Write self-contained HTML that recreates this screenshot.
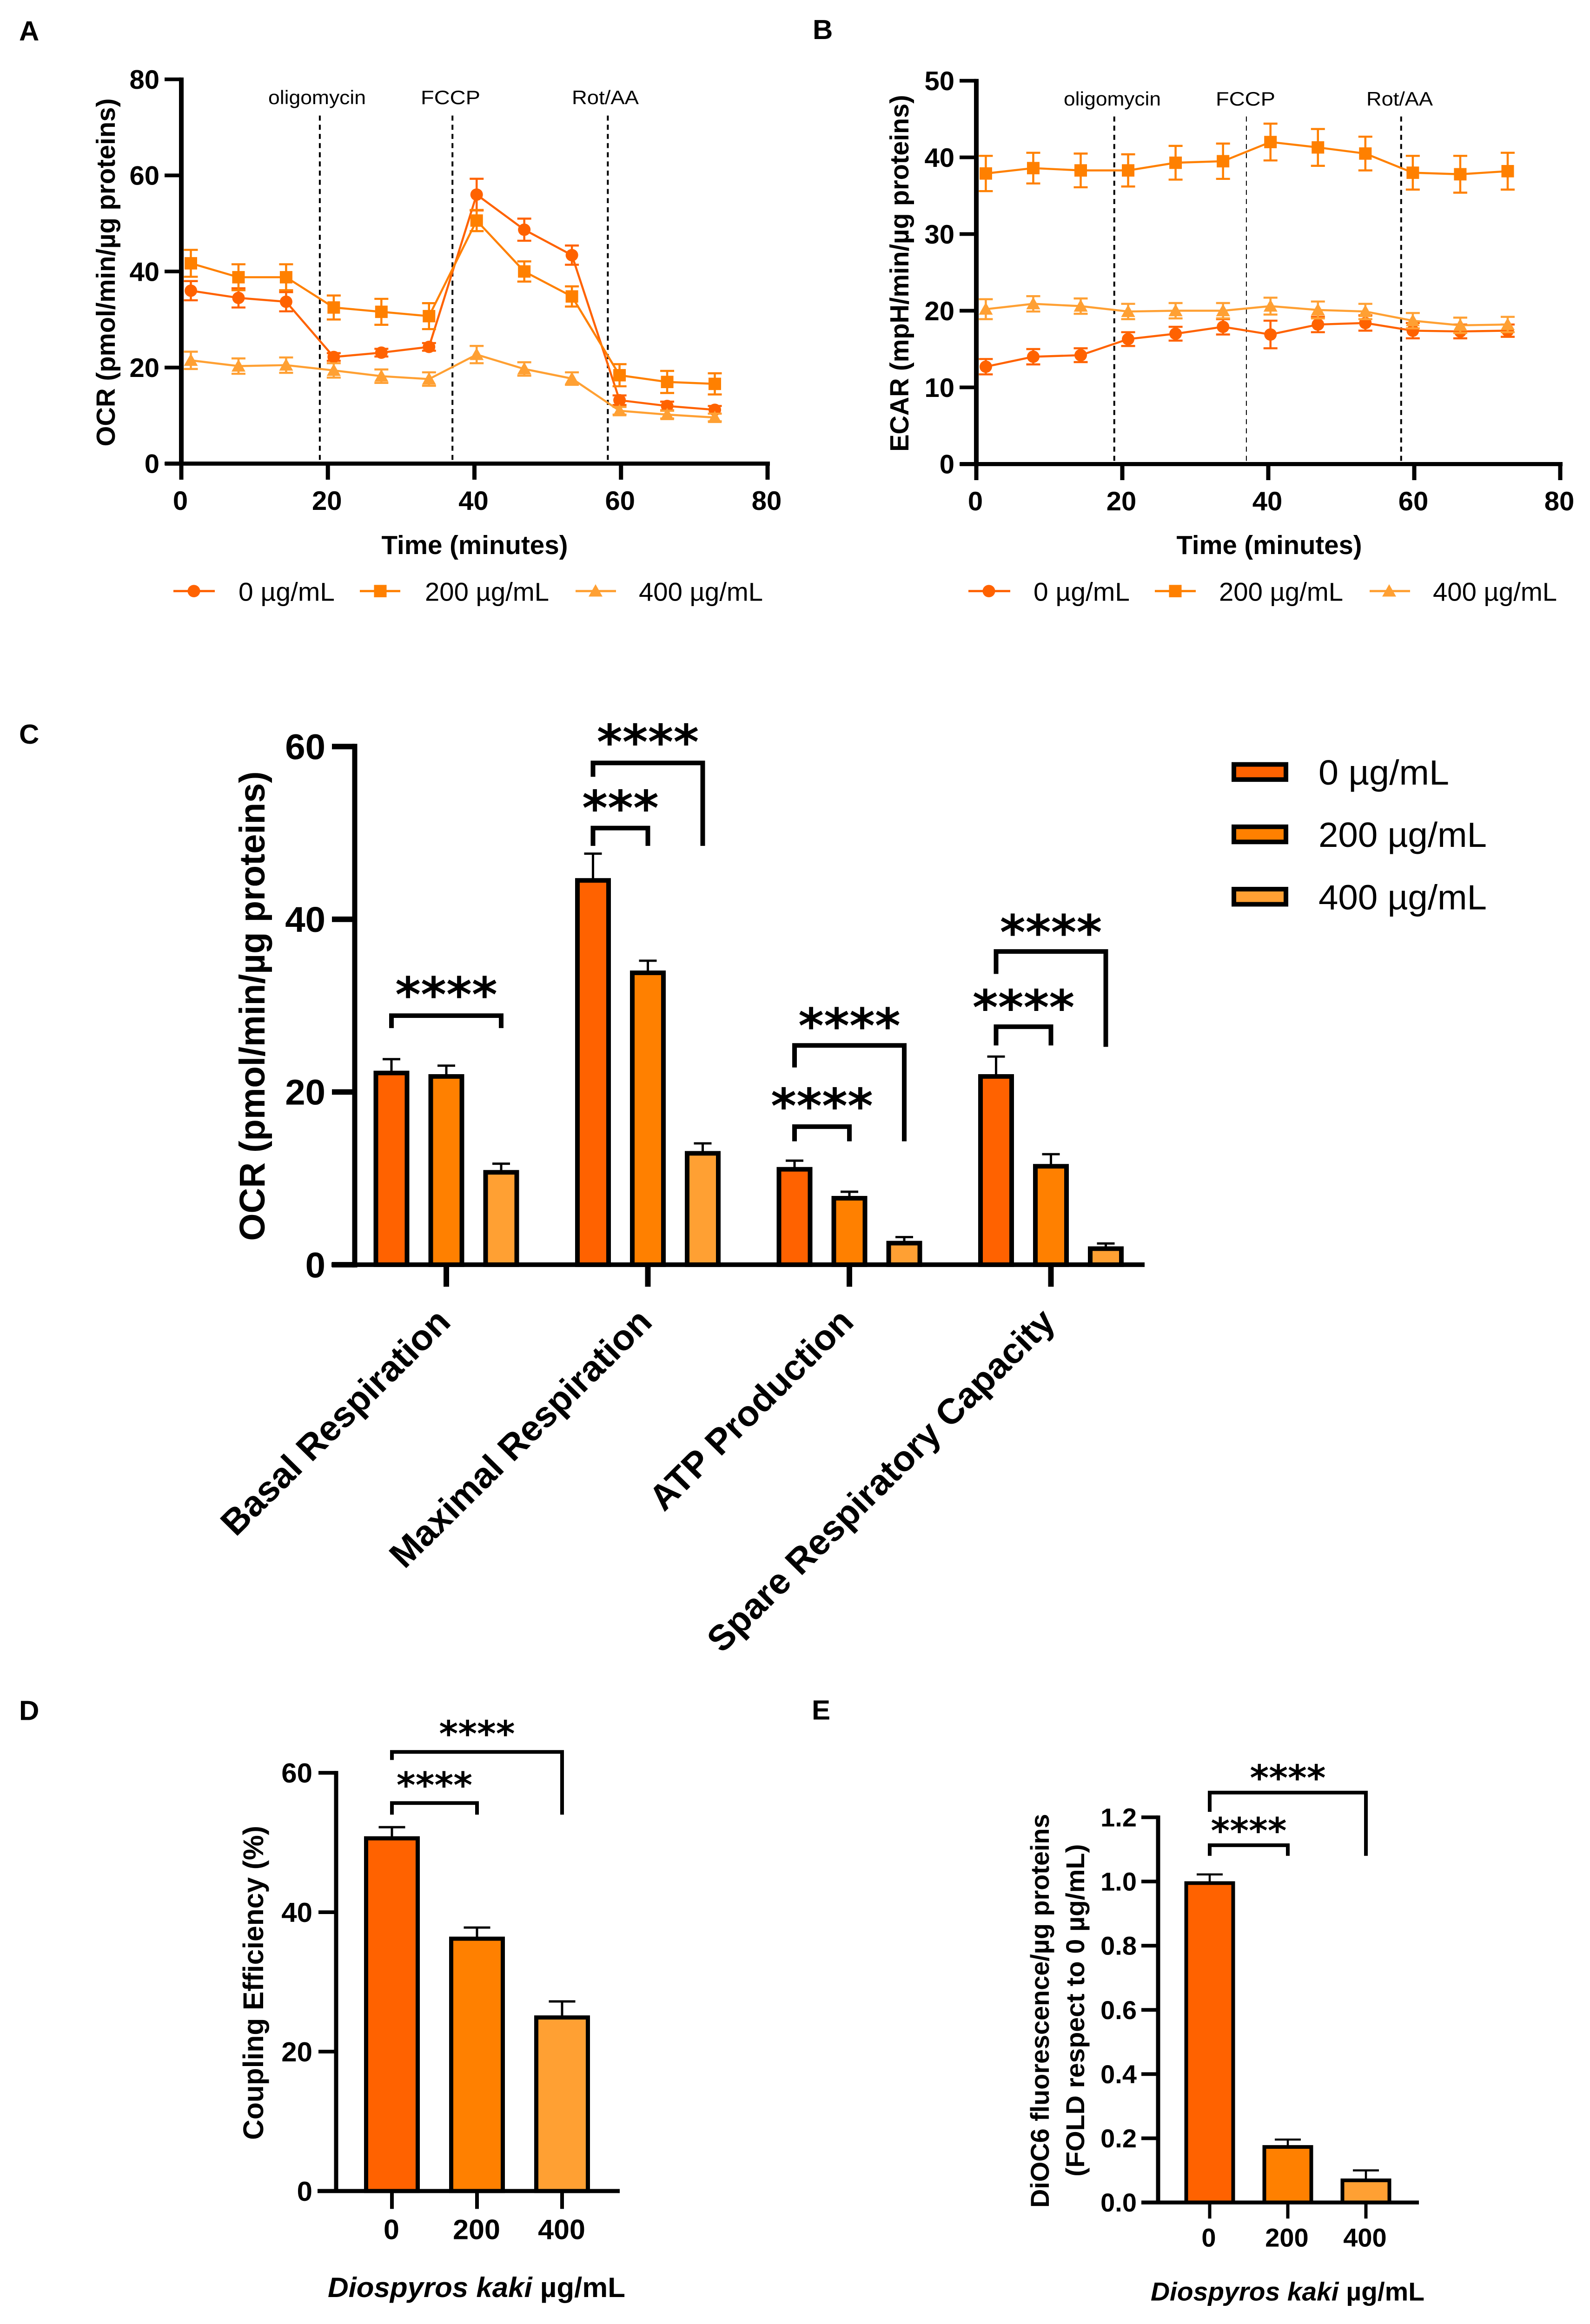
<!DOCTYPE html>
<html lang="en">
<head>
<meta charset="utf-8">
<title>Diospyros kaki mitochondrial respiration figure</title>
<style>
html,body{margin:0;padding:0;background:#fff;width:100%;height:100%;overflow:hidden}
svg#figure{display:block;position:absolute;left:0;top:0;width:100vw;height:100vh}
text{font-family:"Liberation Sans",Arial,sans-serif;fill:#000}
.b{font-weight:700}
</style>
</head>
<body>
<svg id="figure" xmlns="http://www.w3.org/2000/svg" viewBox="0 0 3420 5068" preserveAspectRatio="none">
<rect width="3420" height="5068" fill="#fff"/>

<g id="panel-a">
  <text class="b" x="41" y="88" font-size="60">A</text>
  <text class="b" font-size="57" text-anchor="middle" textLength="759" lengthAdjust="spacingAndGlyphs" transform="translate(247,594) rotate(-90)">OCR (pmol/min/µg proteins)</text>
  <text class="b" font-size="57" text-anchor="middle" x="1021" y="1208" textLength="401" lengthAdjust="spacingAndGlyphs">Time (minutes)</text>
  <text font-size="42" x="577" y="227" textLength="210" lengthAdjust="spacingAndGlyphs">oligomycin</text>
  <text font-size="42" x="905" y="227" textLength="128" lengthAdjust="spacingAndGlyphs">FCCP</text>
  <text font-size="42" x="1230" y="227" textLength="144" lengthAdjust="spacingAndGlyphs">Rot/AA</text>
  <text font-size="56" x="513" y="1310" textLength="207" lengthAdjust="spacingAndGlyphs">0 µg/mL</text>
  <text font-size="56" x="914" y="1310" textLength="267" lengthAdjust="spacingAndGlyphs">200 µg/mL</text>
  <text font-size="56" x="1374" y="1310" textLength="267" lengthAdjust="spacingAndGlyphs">400 µg/mL</text>
</g>

<g id="panel-b">
  <text class="b" x="1748" y="85" font-size="60">B</text>
  <text class="b" font-size="57" text-anchor="middle" textLength="778" lengthAdjust="spacingAndGlyphs" transform="translate(1954,596) rotate(-90)">ECAR (mpH/min/µg proteins)</text>
  <text class="b" font-size="57" text-anchor="middle" x="2730" y="1208" textLength="399" lengthAdjust="spacingAndGlyphs">Time (minutes)</text>
  <text font-size="42" x="2288" y="230" textLength="209" lengthAdjust="spacingAndGlyphs">oligomycin</text>
  <text font-size="42" x="2615" y="230" textLength="128" lengthAdjust="spacingAndGlyphs">FCCP</text>
  <text font-size="42" x="2939" y="230" textLength="143" lengthAdjust="spacingAndGlyphs">Rot/AA</text>
  <text font-size="56" x="2223" y="1310" textLength="207" lengthAdjust="spacingAndGlyphs">0 µg/mL</text>
  <text font-size="56" x="2622" y="1310" textLength="267" lengthAdjust="spacingAndGlyphs">200 µg/mL</text>
  <text font-size="56" x="3082" y="1310" textLength="267" lengthAdjust="spacingAndGlyphs">400 µg/mL</text>
</g>

<g id="panel-c">
  <text class="b" x="41" y="1622" font-size="60">C</text>
  <text class="b" font-size="77" text-anchor="middle" textLength="1024" lengthAdjust="spacingAndGlyphs" transform="translate(569,2194) rotate(-90)">OCR (pmol/min/µg proteins)</text>
  <rect x="2654" y="1667" width="112" height="33" fill="#FF6200" stroke="#000" stroke-width="10"/>
  <rect x="2654" y="1803" width="112" height="33" fill="#FF8000" stroke="#000" stroke-width="10"/>
  <rect x="2654" y="1939" width="112" height="33" fill="#FFA033" stroke="#000" stroke-width="10"/>
  <text font-size="76" x="2836" y="1711" textLength="281" lengthAdjust="spacingAndGlyphs">0 µg/mL</text>
  <text font-size="76" x="2836" y="1847" textLength="362" lengthAdjust="spacingAndGlyphs">200 µg/mL</text>
  <text font-size="76" x="2836" y="1983" textLength="362" lengthAdjust="spacingAndGlyphs">400 µg/mL</text>
</g>

<g id="panel-d">
  <text class="b" x="41" y="3751" font-size="60">D</text>
  <text class="b" font-size="61" text-anchor="middle" textLength="685" lengthAdjust="spacingAndGlyphs" transform="translate(566,4324) rotate(-90)">Coupling Efficiency (%)</text>
  <text class="b" font-size="61" x="705" y="5009" textLength="640" lengthAdjust="spacingAndGlyphs"><tspan font-style="italic">Diospyros kaki</tspan> µg/mL</text>
</g>

<g id="panel-e">
  <text class="b" x="1746" y="3750" font-size="60">E</text>
  <text class="b" font-size="56" text-anchor="middle" textLength="859" lengthAdjust="spacingAndGlyphs" transform="translate(2256,4385) rotate(-90)">DiOC6 fluorescence/µg proteins</text>
  <text class="b" font-size="56" text-anchor="middle" textLength="725" lengthAdjust="spacingAndGlyphs" transform="translate(2332,4384) rotate(-90)">(FOLD respect to 0 µg/mL)</text>
  <text class="b" font-size="56" x="2475" y="5017" textLength="589" lengthAdjust="spacingAndGlyphs"><tspan font-style="italic">Diospyros kaki</tspan> µg/mL</text>
</g>
</svg>

<script>
// ---------- Panel A data (OCR time course) ----------
const timeMinutes = [1.3, 7.8, 14.3, 20.8, 27.3, 33.8, 40.3, 46.8, 53.3, 59.8, 66.3, 72.8];
const ocr0 = [36, 34.5, 33.7, 22.2, 23.1, 24.3, 56, 48.7, 43.4, 13.2, 12, 11.2];
const ocr0Err = [2, 2, 2, 0.8, 0.8, 0.8, 3.3, 2.3, 2, 1, 0.9, 0.8];
const ocr200 = [41.7, 38.8, 38.8, 32.5, 31.6, 30.7, 50.6, 40, 34.8, 18.4, 17, 16.6];
const ocr200Err = [2.8, 2.7, 2.7, 2.5, 2.7, 2.7, 2.2, 2.1, 2.1, 2.3, 2.3, 2.2];
const ocr400 = [21.5, 20.3, 20.5, 19.4, 18.2, 17.6, 22.7, 19.7, 17.7, 11, 10.2, 9.6];
const ocr400Err = [1.8, 1.6, 1.6, 1.5, 1.4, 1.4, 1.8, 1.4, 1.3, 0.8, 0.8, 0.8];
const timeTicks = [0, 20, 40, 60, 80];
const ocrTicks = [0, 20, 40, 60, 80];
const injectionTimes = [18.9, 37, 58.2];

// ---------- Panel B data (ECAR time course) ----------
const ecar0 = [12.7, 14, 14.2, 16.3, 17, 17.9, 16.9, 18.2, 18.4, 17.4, 17.3, 17.4];
const ecar0Err = [1, 1, 0.9, 0.9, 0.9, 1, 1.8, 1, 1, 1, 0.9, 0.8];
const ecar200 = [37.9, 38.6, 38.3, 38.3, 39.3, 39.5, 42, 41.3, 40.5, 38, 37.8, 38.2];
const ecar200Err = [2.3, 2, 2.2, 2.1, 2.2, 2.3, 2.4, 2.4, 2.2, 2.2, 2.4, 2.4];
const ecar400 = [20.2, 20.9, 20.6, 19.9, 20, 20, 20.6, 20.1, 19.9, 18.7, 18.1, 18.2];
const ecar400Err = [1.3, 1, 1, 1, 1, 1, 1.1, 1.1, 1, 1, 1, 1];
const ecarTicks = [0, 10, 20, 30, 40, 50];

// ---------- Panel C data (respiration parameters) ----------
const respCategories = ["Basal Respiration", "Maximal Respiration", "ATP Production", "Spare Respiratory Capacity"];
const respDoses = ["0", "200", "400"];
const resp0 = [22.2, 44.5, 11.05, 21.8];
const resp0Err = [1.6, 3.1, 1, 2.3];
const resp200 = [21.8, 33.8, 7.7, 11.4];
const resp200Err = [1.25, 1.4, 0.75, 1.4];
const resp400 = [10.7, 12.9, 2.5, 1.86];
const resp400Err = [1, 1.15, 0.7, 0.6];
const respTicks = [0, 20, 40, 60];
// significance annotations: group, first bar, last bar, levels in axis units, stars
const respSignif = [
  [0, 0, 2, 28.84, 27.4, 27.4, 32.18, "****"],
  [1, 0, 2, 58.1, 56.5, 48.5, 61.44, "****"],
  [1, 0, 1, 50.56, 48.5, 48.5, 53.8, "***"],
  [2, 0, 2, 25.39, 22.84, 14.29, 28.57, "****"],
  [2, 0, 1, 15.99, 14.29, 14.29, 19.28, "****"],
  [3, 0, 2, 36.27, 33.67, 25.23, 39.4, "****"],
  [3, 0, 1, 27.56, 25.39, 25.39, 30.7, "****"]
];

// ---------- Panel D data (coupling efficiency) ----------
const doseLabels = ["0", "200", "400"];
const coupling = [50.6, 36.2, 24.9];
const couplingErr = [1.6, 1.6, 2.3];
const couplingTicks = [0, 20, 40, 60];
const couplingSignif = [
  [0, 2, 63, 61.84, 54, 66.45, "****"],
  [0, 1, 55.66, 54, 54, 59.1, "****"]
];

// ---------- Panel E data (DiOC6) ----------
const dioc = [0.995, 0.173, 0.069];
const diocErr = [0.027, 0.023, 0.031];
const diocTicks = [0, 0.2, 0.4, 0.6, 0.8, 1.0, 1.2];
const diocSignif = [
  [0, 2, 1.277, 1.217, 1.08, 1.341, "****"],
  [0, 1, 1.113, 1.08, 1.08, 1.177, "****"]
];

const COLORS = ["#FF6200", "#FF8000", "#FFA033"];
const SVGNS = "http://www.w3.org/2000/svg";

function el(parent, tag, attrs, text) {
  const n = document.createElementNS(SVGNS, tag);
  for (const k in attrs) n.setAttribute(k, attrs[k]);
  if (text !== undefined) n.textContent = text;
  parent.appendChild(n);
  return n;
}
function linear(d0, d1, r0, r1) {
  return function (v) { return r0 + (v - d0) * (r1 - r0) / (d1 - d0); };
}

function drawYAxis(g, x, y, ticks, fmt, o) {
  const line = el(g, "line", { x1: x, x2: x, y1: y(ticks[ticks.length - 1]) - o.tw / 2, y2: y(ticks[0]) + o.tw / 2, stroke: "#000", "stroke-width": o.lw });
  
  
  ticks.forEach(function (t) {
    const tk = el(g, "line", { x1: x - o.tl, x2: x, y1: y(t), y2: y(t), stroke: "#000", "stroke-width": o.tw });
    
    
    const lb = el(g, "text", { x: o.labelRight, y: y(t) + o.fs * 0.355, "font-size": o.fs, "font-weight": 700, "text-anchor": "end" }, fmt(t));
    
    
  });
}

function drawLinePanel(g, x, y, injections, dashTop, dashWidths, seriesValues, seriesErrors, xTicks, yTicks, o) {
  injections.forEach(function (t, i) {
    const d = el(g, "line", { x1: x(t), x2: x(t), y1: dashTop, y2: y(0) - 6, stroke: "#000", "stroke-width": dashWidths[i], "stroke-dasharray": "11 9" });
    
    
  });
  seriesValues.forEach(function (vals, s) {
    const color = COLORS[s];
    const sg = el(g, "g", {});
    
    
    vals.forEach(function (v, i) {
      const e = seriesErrors[s][i], px = x(timeMinutes[i]);
      const path = "M" + px + " " + y(v + e) + "V" + y(v - e) + "M" + (px - 15) + " " + y(v + e) + "H" + (px + 15) + "M" + (px - 15) + " " + y(v - e) + "H" + (px + 15);
      const eb = el(sg, "path", { d: path, stroke: color, "stroke-width": 4.5, fill: "none" });
      
      
    });
    const pts = vals.map(function (v, i) { return x(timeMinutes[i]) + "," + y(v); }).join(" ");
    const pl = el(sg, "polyline", { points: pts, fill: "none", stroke: color, "stroke-width": 4.5 });
    
    
    vals.forEach(function (v, i) {
      const m = drawMarker(sg, s, x(timeMinutes[i]), y(v), color);
      
      
    });
  });
  // axes
  const xa = el(g, "line", { x1: o.xStart, x2: x(xTicks[xTicks.length - 1]) + 5, y1: y(0), y2: y(0), stroke: "#000", "stroke-width": 9 });
  
  
  xTicks.forEach(function (t) {
    const tk = el(g, "line", { x1: x(t), x2: x(t), y1: y(0), y2: y(0) + 35, stroke: "#000", "stroke-width": 9 });
    
    
    const lb = el(g, "text", { x: x(t) - 2, y: y(0) + 101, "font-size": 58, "font-weight": 700, "text-anchor": "middle" }, String(t));
    
    
  });
  drawYAxis(g, x(0), y, yTicks, String, { lw: 10, tw: 8, tl: 36, fs: 58, labelRight: o.labelRight });
}

function drawMarker(parent, kind, cx, cy, color) {
  if (kind === 0) return el(parent, "circle", { cx: cx, cy: cy, r: 13.5, fill: color });
  if (kind === 1) return el(parent, "rect", { x: cx - 13.5, y: cy - 13.5, width: 27, height: 27, fill: color });
  return el(parent, "path", { d: "M" + cx + " " + (cy - 15) + "L" + (cx + 15) + " " + (cy + 12) + "L" + (cx - 15) + " " + (cy + 12) + "Z", fill: color });
}

function drawLineLegend(g, items) {
  items.forEach(function (it, s) {
    const l = el(g, "line", { x1: it.a, x2: it.b, y1: 1289, y2: 1289, stroke: COLORS[s], "stroke-width": 5 });
    
    
    const m = drawMarker(g, s, it.m, 1289, COLORS[s]);
    
    
  });
}

function drawBar(g, cx, value, err, y, color, o) {
  const e = el(g, "path", { d: "M" + cx + " " + y(value) + "V" + y(value + err) + "M" + (cx - o.cap / 2) + " " + y(value + err) + "H" + (cx + o.cap / 2), stroke: "#000", "stroke-width": o.ew, fill: "none" });
  
  
  const r = el(g, "rect", { x: cx - o.w / 2, y: y(value), width: o.w, height: y(0) - y(value), fill: color, stroke: "#000", "stroke-width": o.sw });
  
  
}

function drawBracket(g, x1, x2, top, leftEnd, rightEnd, starY, stars, o) {
  const p = el(g, "path", { d: "M" + x1 + " " + leftEnd + "V" + top + "H" + x2 + "V" + rightEnd, fill: "none", stroke: "#000", "stroke-width": o.sw });
  
  
  const t = el(g, "text", { x: (x1 + x2) / 2, y: starY + o.fs * 0.516, "font-size": o.fs, "font-weight": 700, "text-anchor": "middle", style: 'font-family:"DejaVu Sans",sans-serif' }, stars);
  
  
}

// ---------- Panel A ----------
const gA = document.getElementById("panel-a");
const xA = linear(0, 80, 390, 1651);
const yA = linear(0, 80, 1011, 173);
drawLinePanel(gA, xA, yA, injectionTimes, 252, [4, 4, 4], [ocr0, ocr200, ocr400], [ocr0Err, ocr200Err, ocr400Err], timeTicks, ocrTicks, { xStart: 355, labelRight: 343 });
drawLineLegend(gA, [{ a: 373, b: 462, m: 417 }, { a: 774, b: 861, m: 818 }, { a: 1238, b: 1325, m: 1281 }]);

// ---------- Panel B ----------
const gB = document.getElementById("panel-b");
const xB = linear(0, 80, 2100, 3356);
const yB = linear(0, 50, 1012, 176);
drawLinePanel(gB, xB, yB, injectionTimes, 254, [4, 2, 4], [ecar0, ecar200, ecar400], [ecar0Err, ecar200Err, ecar400Err], timeTicks, ecarTicks, { xStart: 2065, labelRight: 2053 });
drawLineLegend(gB, [{ a: 2083, b: 2173, m: 2127 }, { a: 2484, b: 2572, m: 2528 }, { a: 2946, b: 3033, m: 2988 }]);

// ---------- Panel C ----------
const gC = document.getElementById("panel-c");
const yC = linear(0, 60, 2758, 1628);
function bandC(group, bar) { return 842 + 433.5 * group + 118 * bar; }
const respSeries = [resp0, resp200, resp400];
const respSeriesErr = [resp0Err, resp200Err, resp400Err];
respCategories.forEach(function (cat, i) {
  respSeries.forEach(function (vals, s) {
    drawBar(gC, bandC(i, s), vals[i], respSeriesErr[s][i], yC, COLORS[s], { w: 67, sw: 10, cap: 38, ew: 5 });
  });
});
const xaC = el(gC, "line", { x1: 713, x2: 2462, y1: yC(0), y2: yC(0), stroke: "#000", "stroke-width": 10 });


respCategories.forEach(function (cat, i) {
  const cx = bandC(i, 1);
  const tk = el(gC, "line", { x1: cx, x2: cx, y1: yC(0), y2: yC(0) + 48, stroke: "#000", "stroke-width": 12 });
  
  
  const lb = el(gC, "text", { transform: "translate(" + (cx + 13) + "," + (yC(0) + 129) + ") rotate(-45)", "font-size": 78, "font-weight": 700, "text-anchor": "end" }, cat);
  
  
});
drawYAxis(gC, 763, yC, respTicks, String, { lw: 11, tw: 12, tl: 49, fs: 78, labelRight: 700 });
respSignif.forEach(function (b) {
  drawBracket(gC, bandC(b[0], b[1]), bandC(b[0], b[2]), yC(b[3]), yC(b[4]), yC(b[5]), yC(b[6]), b[7], { sw: 10, fs: 105 });
});

// ---------- Panel D ----------
const gD = document.getElementById("panel-d");
const yD = linear(0, 60, 4778, 3866);
function bandD(i) { return 843 + 183 * i; }
coupling.forEach(function (v, i) {
  drawBar(gD, bandD(i), v, couplingErr[i], yD, COLORS[i], { w: 111, sw: 9, cap: 57, ew: 5 });
});
const xaD = el(gD, "line", { x1: 683, x2: 1333, y1: yD(0), y2: yD(0), stroke: "#000", "stroke-width": 9 });


doseLabels.forEach(function (lab, i) {
  const cx = bandD(i);
  const tk = el(gD, "line", { x1: cx, x2: cx, y1: yD(0), y2: yD(0) + 39, stroke: "#000", "stroke-width": 8 });
  
  
  const lb = el(gD, "text", { x: cx - 1, y: 4883, "font-size": 61, "font-weight": 700, "text-anchor": "middle" }, lab);
  
  
});
drawYAxis(gD, 723, yD, couplingTicks, String, { lw: 9, tw: 8, tl: 38, fs: 60, labelRight: 672 });
couplingSignif.forEach(function (b) {
  drawBracket(gD, bandD(b[0]), bandD(b[1]), yD(b[2]), yD(b[3]), yD(b[4]), yD(b[5]), b[6], { sw: 8, fs: 78 });
});

// ---------- Panel E ----------
const gE = document.getElementById("panel-e");
const yE = linear(0, 1.2, 4803, 3963);
function bandE(i) { return 2602 + 168 * i; }
dioc.forEach(function (v, i) {
  drawBar(gE, bandE(i), v, diocErr[i], yE, COLORS[i], { w: 101, sw: 8, cap: 56, ew: 4.5 });
});
const xaE = el(gE, "line", { x1: 2455, x2: 3052, y1: yE(0), y2: yE(0), stroke: "#000", "stroke-width": 8.5 });


doseLabels.forEach(function (lab, i) {
  const cx = bandE(i);
  const tk = el(gE, "line", { x1: cx, x2: cx, y1: yE(0), y2: yE(0) + 35, stroke: "#000", "stroke-width": 7 });
  
  
  const lb = el(gE, "text", { x: cx - 2, y: 4899, "font-size": 56, "font-weight": 700, "text-anchor": "middle" }, lab);
  
  
});
drawYAxis(gE, 2491, yE, diocTicks, function (t) { return t.toFixed(1); }, { lw: 9, tw: 8, tl: 36, fs: 56, labelRight: 2445 });
diocSignif.forEach(function (b) {
  drawBracket(gE, bandE(b[0]), bandE(b[1]), yE(b[2]), yE(b[3]), yE(b[4]), yE(b[5]), b[6], { sw: 8, fs: 78 });
});
</script>
</body>
</html>
